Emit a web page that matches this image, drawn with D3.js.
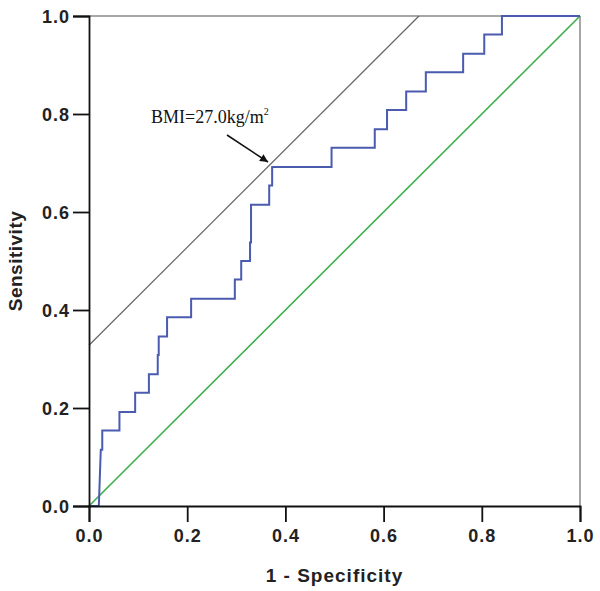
<!DOCTYPE html>
<html><head><meta charset="utf-8">
<script src="https://cdn.jsdelivr.net/npm/d3@7"></script>
<style>body{margin:0;background:#fff}</style>
</head><body>
<script>
// ROC curve vertices (1 - specificity, sensitivity)
const fpr = [0,0.020,0.024,0.027,0.027,0.062,0.062,0.094,0.094,0.122,0.122,0.140,0.140,0.142,0.142,0.159,0.159,0.208,0.208,0.297,0.297,0.310,0.310,0.328,0.328,0.330,0.330,0.367,0.367,0.373,0.373,0.494,0.494,0.582,0.582,0.607,0.607,0.646,0.646,0.686,0.686,0.762,0.762,0.805,0.805,0.841,0.841,1.0];
const tpr = [0,0,0.115,0.115,0.154,0.154,0.192,0.192,0.231,0.231,0.269,0.269,0.308,0.308,0.346,0.346,0.385,0.385,0.423,0.423,0.462,0.462,0.500,0.500,0.538,0.538,0.615,0.615,0.654,0.654,0.692,0.692,0.731,0.731,0.769,0.769,0.808,0.808,0.846,0.846,0.885,0.885,0.923,0.923,0.962,0.962,1.0,1.0];
const refX = [0,1], refY = [0,1];
const tangentX = [0,0.672], tangentY = [0.328,1.0];
const ticks = [0,0.2,0.4,0.6,0.8,1.0];
const annotation = "BMI=27.0kg/m";
const xTitle = "1 - Specificity", yTitle = "Sensitivity";

const W=600,H=591, m={l:89,t:16,w:491,h:490};
const svg=d3.select("body").append("svg").attr("width",W).attr("height",H);
const x=d3.scaleLinear().domain([0,1]).range([m.l,m.l+m.w]);
const y=d3.scaleLinear().domain([0,1]).range([m.t+m.h,m.t]);

// frame top/right
svg.append("line").attr("x1",x(0)).attr("x2",x(1)).attr("y1",y(1)).attr("y2",y(1)).attr("stroke","#8a8a8a").attr("stroke-width",1.5);
svg.append("line").attr("x1",x(1)).attr("x2",x(1)).attr("y1",y(0)).attr("y2",y(1)).attr("stroke","#8a8a8a").attr("stroke-width",1.5);

const line=d3.line().x(d=>x(d[0])).y(d=>y(d[1]));
// reference diagonal
svg.append("path").attr("d",line(d3.zip(refX,refY))).attr("fill","none").attr("stroke","#3cb04a").attr("stroke-width",1.6);
// tangent line
svg.append("path").attr("d",line(d3.zip(tangentX,tangentY))).attr("fill","none").attr("stroke","#666").attr("stroke-width",1.2);
// ROC
svg.append("path").attr("d",line(d3.zip(fpr,tpr))).attr("fill","none").attr("stroke","#4a5bb0").attr("stroke-width",2);

// axes
const fmt=d3.format(".1f");
const xa=svg.append("g").attr("transform",`translate(0,${y(0)})`).call(d3.axisBottom(x).tickValues(ticks).tickFormat(fmt).tickSize(16).tickPadding(8));
const ya=svg.append("g").attr("transform",`translate(${x(0)},0)`).call(d3.axisLeft(y).tickValues(ticks).tickFormat(fmt).tickSize(16).tickPadding(3));
[xa,ya].forEach(g=>{
  g.select(".domain").attr("stroke","#111").attr("stroke-width",1.8);
  g.selectAll(".tick line").attr("stroke","#111").attr("stroke-width",1.8);
  g.selectAll("text").attr("font-family","Liberation Sans, Arial, sans-serif").attr("font-size",18).attr("font-weight","bold").attr("letter-spacing",1).attr("fill","#222");
});
ya.selectAll("text").attr("dy","0.36em");
xa.selectAll("text").attr("dy","0.68em");

// titles
svg.append("text").attr("x",x(0.5)).attr("y",582).attr("text-anchor","middle").attr("font-family","Liberation Sans, Arial, sans-serif").attr("font-size",19).attr("font-weight","bold").attr("letter-spacing",1).attr("fill","#222").text(xTitle);
svg.append("text").attr("transform",`translate(22,${y(0.5)}) rotate(-90)`).attr("text-anchor","middle").attr("font-family","Liberation Sans, Arial, sans-serif").attr("font-size",19).attr("font-weight","bold").attr("letter-spacing",0.5).attr("fill","#222").text(yTitle);

// annotation
const t=svg.append("text").attr("x",151).attr("y",123).attr("font-family","Liberation Serif, Times New Roman, serif").attr("font-size",18).attr("fill","#111").text(annotation);
t.append("tspan").attr("font-size",10).attr("dy",-8).text("2");

svg.append("defs").append("marker").attr("id","ah").attr("viewBox","0 0 10 10").attr("refX",10).attr("refY",5)
  .attr("markerWidth",10).attr("markerHeight",8).attr("markerUnits","userSpaceOnUse").attr("orient","auto")
  .append("path").attr("d","M0,0L10,5L0,10z").attr("fill","#111");
svg.append("line").attr("x1",227).attr("y1",135).attr("x2",268).attr("y2",162).attr("stroke","#111").attr("stroke-width",1.5).attr("marker-end","url(#ah)");
</script>
</body></html>
